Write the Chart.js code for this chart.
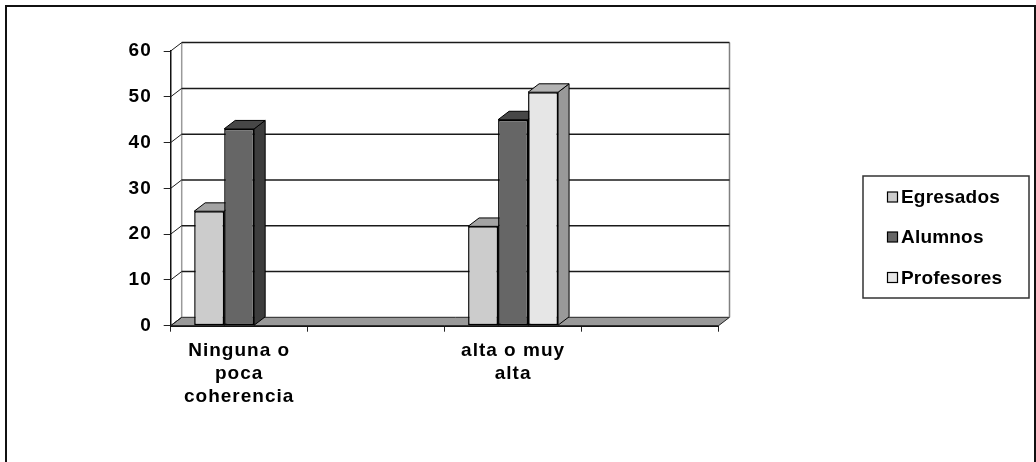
<!DOCTYPE html>
<html>
<head>
<meta charset="utf-8">
<script src="https://cdn.jsdelivr.net/npm/chart.js@4/dist/chart.umd.min.js"></script>
<style>
  html, body { margin: 0; padding: 0; background: #ffffff; }
  #wrap { width: 1036px; height: 462px; }
</style>
</head>
<body>
<div id="wrap"><canvas id="chart" width="1036" height="462"></canvas></div>
<script>
// Categories (multi-line labels) and series values
const categories = [["Ninguna o", "poca", "coherencia"], "", ["alta o muy", "alta"], ""];
const seriesNames = ["Egresados", "Alumnos", "Profesores"];
const egresados = [25, null, 21.7, null];
const alumnos = [43, null, 45, null];
const profesores = [null, null, 51, null];
const yTicks = [0, 10, 20, 30, 40, 50, 60];

// Shading for the three visible faces of each column
const frontColors = ["#cccccc", "#666666", "#e6e6e6"];
const topColors = ["#a3a3a3", "#474747", "#b3b3b3"];
const sideColors = ["#999999", "#3d3d3d", "#999999"];

// Oblique depth offset used for the walls, floor and columns
const DX = 11, DY = -8.4;
const FONT = "'Liberation Sans', Arial, sans-serif";

function poly(ctx, pts, fill, stroke, lw) {
  ctx.beginPath();
  ctx.moveTo(pts[0][0], pts[0][1]);
  for (let i = 1; i < pts.length; i++) ctx.lineTo(pts[i][0], pts[i][1]);
  ctx.closePath();
  if (fill) { ctx.fillStyle = fill; ctx.fill(); }
  if (stroke) { ctx.strokeStyle = stroke; ctx.lineWidth = lw || 1; ctx.stroke(); }
}

function line(ctx, x1, y1, x2, y2, color, lw) {
  ctx.beginPath();
  ctx.moveTo(x1, y1);
  ctx.lineTo(x2, y2);
  ctx.strokeStyle = color;
  ctx.lineWidth = lw;
  ctx.stroke();
}

const depthPlugin = {
  id: 'depth3d',
  beforeDraw(chart) {
    chart.ctx.letterSpacing = '1px';
  },
  beforeDatasetsDraw(chart) {
    const ctx = chart.ctx;
    const { left, right, top, bottom } = chart.chartArea;
    const ys = chart.scales.y;
    ctx.save();

    // floor
    poly(ctx, [[left, bottom], [left + DX, bottom + DY], [right + DX, bottom + DY], [right, bottom]],
      '#999999', '#222222', 1);

    // back wall edges
    line(ctx, left + DX, top + DY, left + DX, bottom + DY, '#9a9a9a', 1.5);
    line(ctx, right + DX, top + DY, right + DX, bottom + DY, '#808080', 1.5);

    // gridlines on the back wall, joined to the front axis
    yTicks.forEach(v => {
      const py = ys.getPixelForValue(v);
      if (v > 0) line(ctx, left + DX, py + DY, right + DX, py + DY, '#1a1a1a', 1.5);
      line(ctx, left, py, left + DX, py + DY, '#1a1a1a', 1);
    });

    // top and side faces of every column
    chart.data.datasets.forEach((ds, i) => {
      const meta = chart.getDatasetMeta(i);
      meta.data.forEach((el, j) => {
        if (ds.data[j] === null || ds.data[j] === undefined) return;
        const p = el.getProps(['x', 'y', 'base', 'width'], true);
        const l = p.x - p.width / 2, r = p.x + p.width / 2;
        poly(ctx, [[r, p.y], [r + DX, p.y + DY], [r + DX, p.base + DY], [r, p.base]],
          sideColors[i], '#000000', 1);
        poly(ctx, [[l, p.y], [l + DX, p.y + DY], [r + DX, p.y + DY], [r, p.y]],
          topColors[i], '#000000', 1);
      });
    });
    ctx.restore();
  },
  afterDraw(chart) {
    const ctx = chart.ctx;
    ctx.save();
    ctx.letterSpacing = '0.2px';

    // legend box
    const bx = 863, by = 176, bw = 166, bh = 122;
    ctx.strokeStyle = '#333333';
    ctx.lineWidth = 1.5;
    ctx.strokeRect(bx, by, bw, bh);
    ctx.font = "bold 19px " + FONT;
    ctx.textBaseline = 'middle';
    ctx.textAlign = 'left';
    const rows = [197, 237, 277.5];
    chart.data.datasets.forEach((ds, i) => {
      const cy = rows[i];
      ctx.fillStyle = ds.backgroundColor;
      ctx.fillRect(887.5, cy - 5, 10, 10);
      ctx.strokeStyle = '#000000';
      ctx.lineWidth = 1.2;
      ctx.strokeRect(887.5, cy - 5, 10, 10);
      ctx.fillStyle = '#000000';
      ctx.fillText(ds.label, 901, cy + 1);
    });

    // outer frame
    ctx.strokeStyle = '#111111';
    ctx.lineWidth = 2;
    ctx.strokeRect(6, 6, 1029, 470);
    ctx.restore();
  }
};

new Chart(document.getElementById('chart'), {
  type: 'bar',
  data: {
    labels: categories,
    datasets: [
      { label: seriesNames[0], data: egresados, backgroundColor: frontColors[0] },
      { label: seriesNames[1], data: alumnos, backgroundColor: frontColors[1] },
      { label: seriesNames[2], data: profesores, backgroundColor: frontColors[2] }
    ]
  },
  options: {
    responsive: false,
    animation: false,
    events: [],
    layout: { padding: { top: 51, right: 317.5, bottom: 36.3, left: 0 } },
    datasets: {
      bar: {
        borderColor: '#000000',
        borderWidth: 1.5,
        borderSkipped: false,
        categoryPercentage: 0.657,
        barPercentage: 1
      }
    },
    plugins: {
      legend: { display: false },
      tooltip: { enabled: false }
    },
    scales: {
      x: {
        offset: true,
        grid: {
          offset: true,
          drawOnChartArea: false,
          drawTicks: true,
          tickLength: 6,
          color: '#222222',
          lineWidth: 1
        },
        border: { display: true, color: '#111111', width: 2 },
        ticks: {
          autoSkip: false,
          maxRotation: 0,
          padding: 7,
          color: '#000000',
          font: { family: FONT, size: 19, weight: 'bold', lineHeight: 1.22 }
        },
        afterFit(scale) { scale.height = 100; }
      },
      y: {
        min: 0,
        max: 60,
        afterBuildTicks(scale) { scale.ticks = yTicks.map(v => ({ value: v })); },
        grid: {
          drawOnChartArea: false,
          drawTicks: true,
          tickLength: 7,
          color: '#222222',
          lineWidth: 1
        },
        border: { display: true, color: '#111111', width: 1.5 },
        ticks: {
          padding: 12,
          color: '#000000',
          font: { family: FONT, size: 19, weight: 'bold' }
        },
        afterFit(scale) { scale.width = 170.7; }
      }
    }
  },
  plugins: [depthPlugin]
});
</script>
</body>
</html>
